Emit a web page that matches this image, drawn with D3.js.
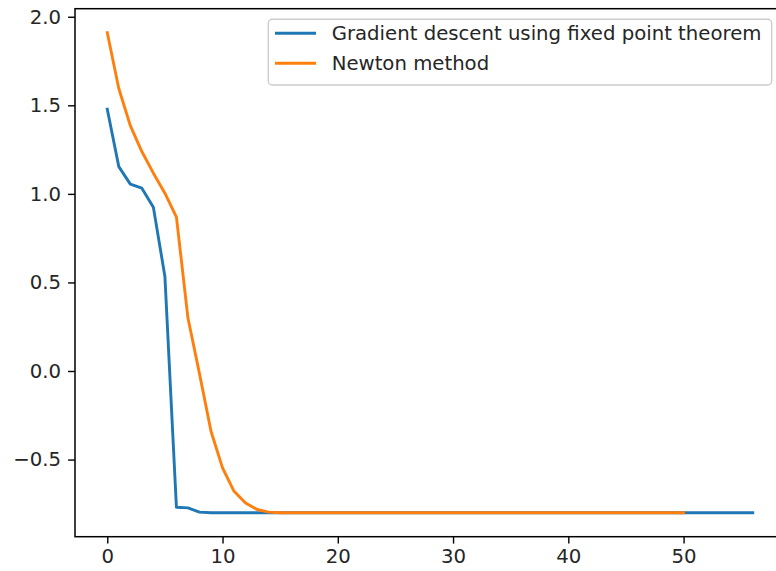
<!DOCTYPE html>
<html>
<head>
<meta charset="utf-8">
<script src="https://cdn.jsdelivr.net/npm/d3@7"></script>
<style>
  html, body { margin: 0; padding: 0; background: #fff; }
  svg { display: block; font-family: "DejaVu Sans", sans-serif; }
</style>
</head>
<body>
<svg id="chart" width="776" height="571"></svg>
<script>
// Objective value per iteration for the two solvers
const gradientIters = d3.range(0, 57);
const gradientValues = [
  1.478, 1.154, 1.055, 1.032, 0.925, 0.534, -0.769, -0.773, -0.797,
  -0.80, -0.80, -0.80, -0.80, -0.80, -0.80, -0.80, -0.80, -0.80, -0.80, -0.80,
  -0.80, -0.80, -0.80, -0.80, -0.80, -0.80, -0.80, -0.80, -0.80, -0.80, -0.80,
  -0.80, -0.80, -0.80, -0.80, -0.80, -0.80, -0.80, -0.80, -0.80, -0.80, -0.80,
  -0.80, -0.80, -0.80, -0.80, -0.80, -0.80, -0.80, -0.80, -0.80, -0.80, -0.80,
  -0.80, -0.80, -0.80, -0.80
];
const newtonIters = d3.range(0, 51);
const newtonValues = [
  1.91, 1.595, 1.385, 1.239, 1.117, 1.004, 0.869, 0.299, -0.015, -0.34,
  -0.547, -0.679, -0.745, -0.782, -0.797,
  -0.80, -0.80, -0.80, -0.80, -0.80, -0.80, -0.80, -0.80, -0.80, -0.80,
  -0.80, -0.80, -0.80, -0.80, -0.80, -0.80, -0.80, -0.80, -0.80, -0.80,
  -0.80, -0.80, -0.80, -0.80, -0.80, -0.80, -0.80, -0.80, -0.80, -0.80,
  -0.80, -0.80, -0.80, -0.80, -0.80, -0.80
];
const seriesNames = ["Gradient descent using fixed point theorem", "Newton method"];
const seriesColors = ["#1f77b4", "#ff7f0e"];
const xTicks = [0, 10, 20, 30, 40, 50];
const yTicks = [-0.5, 0.0, 0.5, 1.0, 1.5, 2.0];

const svg = d3.select("#chart");
const plot = { left: 75.0, right: 785.0, top: 8.7, bottom: 536.7 };

// 5% padding around the data range on both axes
const xMin = 0, xMax = 56;
const yMin = d3.min([...gradientValues, ...newtonValues]);
const yMax = d3.max([...gradientValues, ...newtonValues]);
const xPad = (xMax - xMin) * 0.05, yPad = (yMax - yMin) * 0.05;

const x = d3.scaleLinear().domain([xMin - xPad, xMax + xPad]).range([plot.left, plot.right]);
const y = d3.scaleLinear().domain([yMin - yPad, yMax + yPad]).range([plot.bottom, plot.top]);

const fontSize = 19.7;
const fmt = v => d3.format(".1f")(v).replace("-", "\u2212");

// Lines
const line = d3.line().x(d => x(d[0])).y(d => y(d[1]));
const series = [
  d3.zip(gradientIters, gradientValues),
  d3.zip(newtonIters, newtonValues)
];
svg.append("g").selectAll("path").data(series).join("path")
  .attr("d", line)
  .attr("fill", "none")
  .attr("stroke", (d, i) => seriesColors[i])
  .attr("stroke-width", 2.9)
  .attr("stroke-linejoin", "round")
  .attr("stroke-linecap", "square");

// Axes
const xAxis = svg.append("g")
  .attr("transform", `translate(0,${plot.bottom})`)
  .call(d3.axisBottom(x).tickValues(xTicks).tickSize(6.9).tickPadding(5).tickFormat(d3.format("d")));
const yAxis = svg.append("g")
  .attr("transform", `translate(${plot.left},0)`)
  .call(d3.axisLeft(y).tickValues(yTicks).tickSize(6.9).tickPadding(7).tickFormat(fmt));

[xAxis, yAxis].forEach(g => {
  g.select(".domain").remove();
  g.selectAll(".tick line").attr("stroke", "#000").attr("stroke-width", 1.4);
  g.selectAll(".tick text").attr("fill", "#262626")
    .attr("font-family", "DejaVu Sans").attr("font-size", fontSize);
});

// Spines
svg.append("rect")
  .attr("x", plot.left).attr("y", plot.top)
  .attr("width", plot.right - plot.left).attr("height", plot.bottom - plot.top)
  .attr("fill", "none").attr("stroke", "#000").attr("stroke-width", 1.5);

// Legend
const legend = svg.append("g");
legend.append("rect")
  .attr("x", 268.3).attr("y", 19.3).attr("width", 503.4).attr("height", 65.7)
  .attr("rx", 4).attr("ry", 4)
  .attr("fill", "#fff").attr("fill-opacity", 0.8)
  .attr("stroke", "#cccccc").attr("stroke-width", 1.4);
const rows = legend.selectAll("g.row").data(seriesNames).join("g")
  .attr("class", "row")
  .attr("transform", (d, i) => `translate(0,${33.3 + i * 30})`);
rows.append("line")
  .attr("x1", 275).attr("x2", 316)
  .attr("stroke", (d, i) => seriesColors[i]).attr("stroke-width", 2.9);
rows.append("text")
  .attr("x", 331.7).attr("y", 0).attr("dy", "0.36em")
  .attr("font-size", fontSize).attr("fill", "#262626")
  .text(d => d);
</script>
</body>
</html>
